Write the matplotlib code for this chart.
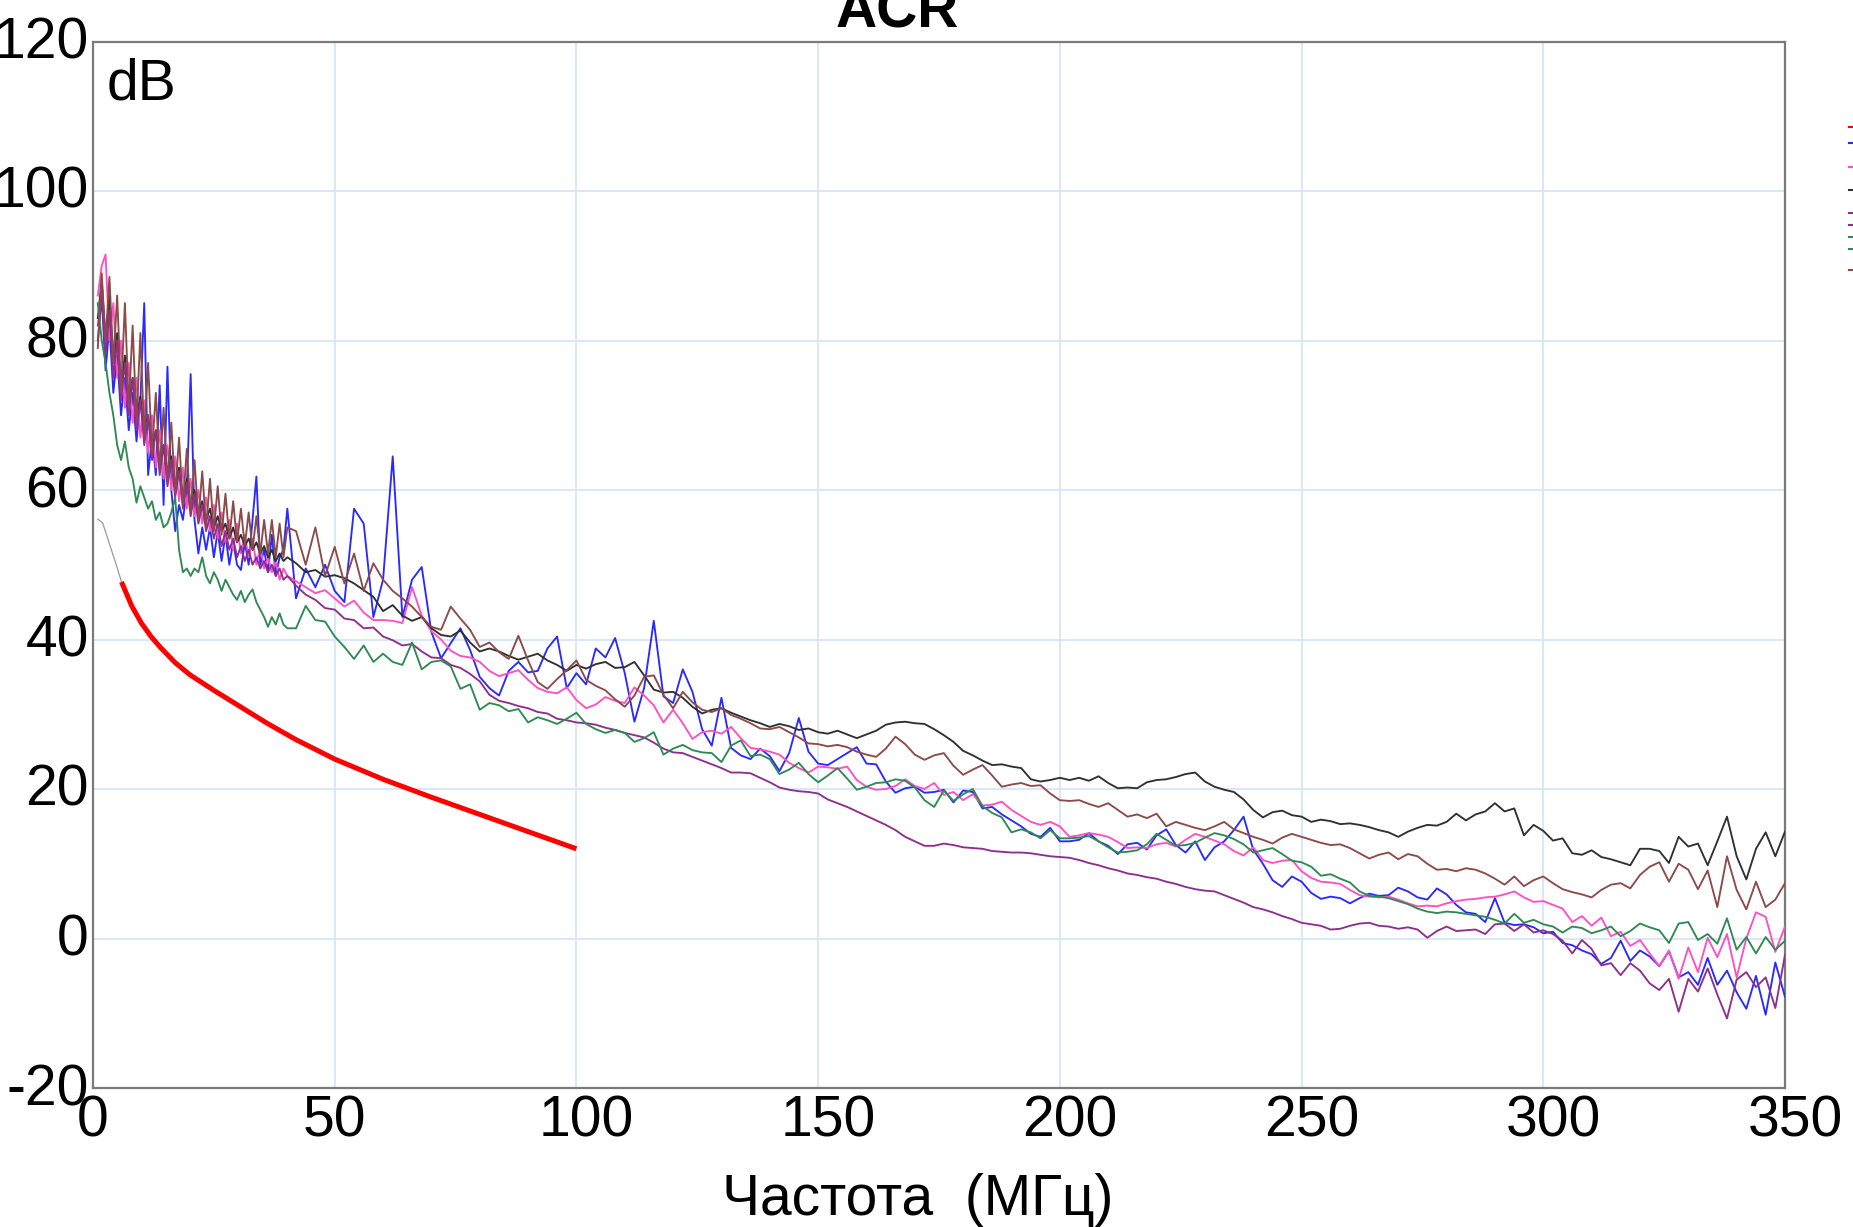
import numpy as np
import matplotlib
matplotlib.use("Agg")
import matplotlib.pyplot as plt
from matplotlib.lines import Line2D
from matplotlib.transforms import ScaledTranslation

plt.rcParams['font.family'] = ['Liberation Sans', 'DejaVu Sans']
plt.rcParams['axes.unicode_minus'] = False

# ---------------- data ----------------
F_LOW = np.round(np.arange(1.0, 40.3, 0.8), 1)      # 1.0 .. 40.2 MHz
F_HIGH = np.arange(42, 351, 2)                         # 42 .. 350 MHz

BLACK_LOW = [83, 88, 80, 86, 77, 81, 74, 78, 71.5, 75,
             69.5, 72.5, 67.5, 70, 65.5, 68, 63.5, 66, 62, 64.5,
             60.5, 63, 59, 61.5, 58, 60, 57, 58.5, 56, 57.5,
             55, 56.5, 54.5, 55.5, 53.5, 55, 53, 54, 52.5, 53.5,
             52, 53, 51.5, 52.5, 51, 52, 50.5, 51.5, 50.5, 51]
BLACK_HIGH = [50.2, 49, 49.3, 48.4, 48.6, 48.2, 47.5, 46.6, 45.7, 43.8,
              44.6, 43.2, 42.5, 43, 41.5, 40.6, 40.4, 41.2, 39.6, 38.4,
              38.8, 38.4, 37.8, 37.3, 37.7, 38.1, 37.2, 36.6, 35.8, 36.6,
              36.1, 36.7, 37, 36.2, 36.3, 37, 35.2, 33.3, 32.9, 33,
              32.2, 31, 30.1, 30.6, 30.8, 30.2, 29.7, 29.2, 28.8, 28.3,
              28.7, 28.4, 27.9, 28.1, 27.6, 27.4, 27.8, 27.3, 26.8, 27.3,
              27.8, 28.6, 28.9, 29, 28.8, 28.7, 28, 27.2, 26.3, 25.1,
              24.5, 23.8, 23.2, 23.3, 23, 22.8, 21.3, 21, 21.2, 21.5,
              21.2, 21.5, 21.1, 21.7, 20.8, 20.1, 20.2, 20.1, 20.9, 21.2,
              21.3, 21.6, 22, 22.2, 21, 20.3, 19.9, 19.6, 18.6, 17.2,
              16.2, 16.9, 17.1, 16.5, 16.3, 15.6, 15.9, 15.7, 15.3, 15.4,
              15.2, 14.9, 14.5, 14.2, 13.6, 14.3, 14.8, 15.2, 15.1, 15.6,
              16.7, 15.8, 16.6, 17, 18.1, 17, 17.4, 13.8, 15.2, 14.4,
              13.1, 13.4, 11.4, 11.2, 11.8, 10.9, 10.6, 10.2, 9.8, 12,
              12, 11.7, 10.1, 13.6, 12.3, 12.7, 9.8, 13, 16.3, 11,
              7.9, 12, 14.2, 11, 14.3]

BROWN_LOW = [79, 89, 80, 88.5, 77, 86, 73, 85, 71, 82,
             69, 81, 67, 77, 65, 73, 62.5, 71, 61, 69,
             59.5, 67, 58, 65.5, 57, 64, 56, 62.5, 55, 61.5,
             54.5, 60.5, 54, 59.5, 53.5, 58.5, 53, 57.5, 52.5, 57,
             52, 56.5, 51.5, 56, 51.5, 56, 51, 55.5, 51, 55]
BROWN_HIGH = [54.5, 50, 55, 48.5, 52.4, 47.5, 51.5, 46.5, 50.2, 48,
              46.5, 45.5, 44.4, 43, 41.7, 41.3, 44.4, 42.8, 41.3, 39,
              39.6, 38.3, 37.4, 40.5, 37.2, 34.3, 33.4, 34.7, 35.9, 37.2,
              34.6, 33.8, 33.2, 32, 31, 32.5, 35, 35.2, 32.6, 30.8,
              33, 31.6, 30.6, 30.3, 30.8, 29.9, 29.4, 28.8, 28.1, 28,
              28.3, 27.6, 26.9, 26.1, 26, 25.7, 25.9, 25.6, 25, 24.6,
              24.3, 25.4, 27, 26, 24.6, 23.9, 24.5, 24.8, 23.1, 21.9,
              22.6, 23.2, 21.8, 20.3, 20.6, 20.8, 20.4, 20.5, 19.4, 18.5,
              18.4, 18.5, 18, 17.6, 18.1, 17.2, 16.3, 16.6, 16.1, 16.7,
              15, 15.6, 15.2, 14.8, 14.5, 15, 15.6, 14.6, 14.1, 13.6,
              13.2, 12.7, 13.5, 14, 13.6, 13.2, 12.8, 12.5, 12.6, 12.1,
              11.4, 10.7, 11.2, 11.5, 10.6, 11.3, 11, 10, 9.2, 9.3,
              9, 9.4, 9.2, 8.7, 8, 7.2, 8.3, 7, 7.8, 8.3,
              7.4, 6.6, 6.2, 5.9, 5.5, 6.5, 7.2, 7.4, 6.7, 8.5,
              9.6, 10.2, 7.6, 10, 9.2, 6.6, 9.1, 4.2, 11, 6.5,
              3.9, 7.6, 4.2, 5.2, 7.4]

PINK_LOW = [86, 90, 91.5, 80, 85, 75, 80, 71, 77, 69,
            75, 67, 72, 65, 70, 63, 68, 61.5, 66, 60,
            64.5, 58.5, 63, 57.5, 61.5, 56.5, 60, 55.5, 59, 54.5,
            58, 53.5, 57, 53, 56, 52, 55.5, 51.5, 54, 51,
            53.5, 50, 52.5, 49.5, 51, 49, 50.5, 48, 49.5, 48.5]
PINK_HIGH = [47.8, 47, 46.2, 46.6, 45.5, 44.4, 45.2, 43.6, 42.6, 42.6,
             42.5, 42.2, 47, 43.2, 41.1, 40, 38.5, 37.8, 37.6, 37,
             35.8, 35.1, 35.5, 35.9, 34.6, 33.5, 33, 32.8, 33.6, 31.9,
             30.8, 31.3, 32.3, 31.8, 31.5, 33.6, 32.5, 31.2, 28.9, 30.6,
             28.8, 26.7, 27.6, 27.8, 27.4, 28.3, 26.8, 25.5, 25.3, 25,
             24.6, 23.5, 22.8, 22.2, 23, 22.9, 22.7, 23, 21.2, 20.3,
             19.9, 20, 20.4, 21.3, 20.4, 20, 20.8, 19.2, 19.6, 18.5,
             19.3, 17.8, 17.9, 18.3, 17.2, 16.4, 15.6, 15.2, 15.6, 15,
             13.6, 13.8, 14.1, 13.9, 13.6, 12.9, 12.1, 12.2, 12.1, 12.6,
             12.8, 12.3, 13.2, 14, 13.6, 13.1, 12.6, 11.7, 11.1, 12.2,
             10.5, 10.1, 10.4, 10.5, 9, 8.1, 7.6, 7.5, 7.3, 6.5,
             5.8, 5.6, 5.5, 5.6, 5.2, 4.7, 4.3, 4.4, 4.3, 4.7,
             5, 5.2, 5.3, 5.5, 5.6, 5.9, 6.3, 5.5, 4.9, 5,
             4.5, 4, 2.2, 3, 1.7, 2.8, 0.3, 0.9, -1, -0.2,
             -2, -3.7, -1.6, -5.4, -1.2, -4.5, 0.1, -2.5, 0.6, -5.2,
             0, 3.5, 2.9, -1.8, 1.6]

BLUE_LOW = [80, 86, 76, 82, 73, 78, 70, 75, 68, 73,
            66.5, 72, 85, 62, 67, 62, 74, 58, 76.5, 60,
            54.5, 58, 56, 60, 75.5, 56, 51.5, 55, 52, 55,
            51, 54.5, 50.5, 54, 50, 53, 50, 49.3, 53, 50,
            56, 61.8, 50, 52, 49, 54, 48.5, 51, 52, 57.5]
BLUE_HIGH = [45.5, 49.5, 47, 50, 46.5, 45, 57.5, 55.5, 43, 48,
             64.5, 43, 48, 49.7, 41, 37.5, 39.5, 41.5, 38.6, 35,
             33.5, 32.5, 35.8, 37, 35.6, 35.8, 38.8, 40.4, 33.5, 35.5,
             34, 38.8, 37.6, 40.2, 35.5, 29, 33.5, 42.5, 32.4, 31.5,
             36, 33, 28, 25.8, 32.2, 25.5, 24.5, 24, 25.4, 24.4,
             22.4, 24.8, 29.5, 25, 23.4, 23.2, 24, 24.8, 25.6, 23.4,
             23.3, 21, 19.5, 20.1, 20.3, 19.5, 19.6, 19.9, 18.2, 19.8,
             19.6, 17.4, 17.6, 16.6, 15.8, 15, 14, 13.6, 14.8, 13,
             13, 13.2, 14.1, 13, 12.4, 11.3, 12.6, 12.8, 11.9, 13.8,
             14.6, 12.5, 11.5, 13, 10.5, 12.2, 13, 14.5, 16.3, 11.9,
             10, 7.8, 6.9, 8.3, 7.6, 6.1, 5.3, 5.6, 5.4, 4.7,
             5.4, 6, 5.7, 5.8, 6.8, 6.3, 5.5, 5.2, 6.7, 5.9,
             4.5, 3.5, 3.3, 2.2, 5.4, 2.1, 1.8, 1.9, 1.5, 0.7,
             0.9, -0.6, -0.9, -1.6, -2.1, -3.4, -2.6, -0.3, -3, -1.6,
             -2.4, -3.7, -1.7, -5.2, -4.5, -6.2, -2.6, -6.2, -4.3, -7.2,
             -9.4, -5, -10.2, -3.2, -7.8]

PURPLE_LOW = [82, 86, 78, 84, 75, 80, 72, 77, 70, 75,
              68, 72, 66, 70, 64, 68, 62, 66, 60.5, 64,
              59, 62.5, 57.5, 61, 56.5, 59.5, 55.5, 58, 54.5, 56.5,
              53.5, 55.5, 52.5, 54.5, 52, 53.5, 51, 52.5, 50.5, 52,
              50, 51, 49.5, 50.5, 49, 50, 48.5, 49.5, 48, 48.5]
PURPLE_HIGH = [47.2, 46, 45.3, 44.2, 44, 42.8, 42.6, 41.5, 41.6, 40.4,
               39.9, 39.2, 39.4, 38.4, 37.6, 37.5, 36.6, 36.2, 35.4, 34.4,
               32.6, 31.8, 31.5, 31.1, 30.8, 30.3, 30.1, 29.4, 29.2, 28.9,
               28.8, 28.6, 28.2, 27.9, 27.5, 27.2, 26.9, 26.2, 25.4, 24.9,
               24.8, 24.3, 23.8, 23.3, 22.8, 22.2, 22.2, 22.1, 21.5, 20.9,
               20.2, 19.9, 19.7, 19.6, 19.4, 18.6, 18.1, 17.6, 17, 16.4,
               15.8, 15.2, 14.5, 13.6, 13, 12.4, 12.4, 12.7, 12.5, 12.2,
               12.1, 12, 11.7, 11.6, 11.5, 11.5, 11.4, 11.2, 11, 10.9,
               10.8, 10.5, 10.1, 9.8, 9.4, 9.1, 8.7, 8.5, 8.2, 8,
               7.6, 7.3, 6.9, 6.6, 6.4, 6.3, 5.8, 5.3, 4.8, 4.2,
               3.9, 3.5, 3, 2.6, 2.1, 1.9, 1.7, 1.2, 1.3, 1.7,
               2, 2.1, 1.7, 1.6, 1.3, 1.5, 1.2, 0.1, 1, 1.6,
               1, 1.1, 1.2, 0.6, 1.9, 2, 1, 1.9, 0.8, 1.1,
               0.6, -0.3, -2, -0.2, -1.4, -3.6, -3.3, -4.9, -3.3, -4.3,
               -6, -6.9, -5.4, -9.8, -5.4, -7.1, -4, -7.5, -10.7, -5.5,
               -4.5, -6.5, -5.2, -9.3, -2.2]

GREEN_LOW = [85, 80, 77, 73, 70, 66, 64, 66.5, 63, 61.5,
             58.3, 60.5, 59, 57.5, 58.5, 56, 57, 55, 55.5, 57,
             59, 52, 49, 49.5, 48.5, 49.5, 49, 51, 48.5, 47.5,
             49, 48, 46.5, 48, 47, 46, 45.3, 46.5, 45, 46,
             46.7, 45, 44, 43, 41.7, 43, 42, 43.5, 42, 41.5]
GREEN_HIGH = [41.5, 44.5, 42.6, 42.4, 40.4, 39, 37.4, 39.2, 37, 38.1,
              37, 36.6, 39.6, 36, 37, 37.2, 36.4, 33.4, 34, 30.6,
              31.5, 31.2, 30.4, 30.7, 28.9, 29.6, 29.2, 28.7, 29.4, 30.2,
              28.7, 28, 27.5, 27.9, 27.5, 26.3, 26.8, 27.6, 24.6, 25.4,
              25.9, 25.2, 24.9, 24.8, 23.6, 25.8, 26.5, 24.4, 24.6, 24,
              22, 22.6, 23.5, 22, 20.9, 21.8, 22.8, 21.4, 19.9, 20.3,
              20.8, 20.9, 21.3, 21.1, 20.2, 18.5, 17.6, 19.8, 18.4, 19.3,
              20, 17.7, 16.8, 16.2, 14.2, 14.6, 14.2, 13.4, 14.5, 13.4,
              13.4, 13.5, 13.7, 13, 12.2, 11.5, 11.6, 11.8, 12.6, 14,
              13.2, 12.4, 12.5, 12.8, 13.5, 14.1, 13.8, 13.3, 12.6, 11.5,
              11.8, 12.1, 11.3, 10.4, 10.2, 9.6, 8.4, 8.6, 8, 7.5,
              6.3, 5.7, 5.6, 5.4, 5, 4.6, 4, 3.6, 3.4, 3.6,
              3.5, 3.3, 3.1, 2.9, 2.5, 2, 3.3, 2.1, 2.5, 1.9,
              1.6, 0.8, 1.6, 1.4, 0.7, 1.1, 1.6, 0.3, 1, 2,
              1.5, 1.1, -0.6, 2, 2.2, -0.2, 0.6, -0.7, 2.7, -1.5,
              0.2, -2, 0.2, -1.5, -0.3]

GRAY_F = [1, 2, 3, 4, 5, 5.9]
GRAY_V = [56.1, 55.6, 53.6, 51.6, 49.6, 47.7]
RED_F = [5.9, 8, 10, 12, 14, 17, 20, 25, 30, 36, 42, 50, 60, 70, 80, 90, 100]
RED_V = [47.7, 44.5, 42.2, 40.4, 38.9, 36.9, 35.3, 33.2, 31.2, 28.8, 26.6,
         24, 21.3, 18.9, 16.6, 14.3, 12]

X_TICKS = [0, 50, 100, 150, 200, 250, 300, 350]
Y_TICKS = [-20, 0, 20, 40, 60, 80, 100, 120]

COLORS = {
    'red': '#ff0000', 'gray': '#9a9a9a', 'blue': '#2a2aff', 'pink': '#ff4fc4',
    'black': '#303030', 'purple': '#8e2f8e', 'green': '#2e8a52', 'brown': '#8c4a48',
}

# ---------------- figure ----------------
W, H = 1853, 1227
fig = plt.figure(figsize=(W / 100, H / 100), dpi=100)
ax = fig.add_axes([93 / W, 1 - 1088 / H, (1785 - 93) / W, (1088 - 41.5) / H])

F = np.concatenate([F_LOW, F_HIGH])
series = [
    ('blue', BLUE_LOW + BLUE_HIGH),
    ('pink', PINK_LOW + PINK_HIGH),
    ('black', BLACK_LOW + BLACK_HIGH),
    ('purple', PURPLE_LOW + PURPLE_HIGH),
    ('green', GREEN_LOW + GREEN_HIGH),
    ('brown', BROWN_LOW + BROWN_HIGH),
]

ax.plot(GRAY_F, GRAY_V, color=COLORS['gray'], lw=0.9, zorder=3)
ax.plot(RED_F, RED_V, color=COLORS['red'], lw=3.6, zorder=3, solid_capstyle='butt')
for i, (c, v) in enumerate(series):
    ax.plot(F, v, color=COLORS[c], lw=1.35, zorder=4 + i)

ax.set_xlim(0, 350)
ax.set_ylim(-20, 120)
ax.set_xticks(X_TICKS, labels=[str(t) for t in X_TICKS])
ax.set_yticks(Y_TICKS, labels=[str(t) for t in Y_TICKS])
ax.grid(True, color='#d4e6f8', lw=1.3)
ax.set_axisbelow(True)
ax.tick_params(axis='both', length=0, labelsize=41, colors='black')
ax.tick_params(axis='x', pad=5)
ax.tick_params(axis='y', pad=3)
for s in ax.spines.values():
    s.set_color('#7a7a7a')
    s.set_linewidth(1.6)

# the source renders three-digit x labels slightly right of their grid line,
# and y labels a few pixels high
for t, tick in zip(X_TICKS, ax.xaxis.get_major_ticks()):
    if t >= 100:
        tick.label1.set_transform(tick.label1.get_transform() +
                                  ScaledTranslation(10 / 100, 0, fig.dpi_scale_trans))
for tick in ax.yaxis.get_major_ticks():
    tick.label1.set_transform(tick.label1.get_transform() +
                              ScaledTranslation(0, 4 / 100, fig.dpi_scale_trans))

fig.text(897.5 / W, 1 - 28 / H, 'ACR', ha='center', va='baseline',
         fontsize=41, fontweight='bold')
fig.text(107 / W, 1 - 100 / H, 'dB', ha='left', va='baseline', fontsize=41)
fig.text(918 / W, 1 - 1215 / H, 'Частота  (МГц)', ha='center', va='baseline',
         fontsize=41)

# clipped legend fragments at the right edge
legend_marks = [(127, 'red'), (143, 'blue'), (167, 'pink'), (190, 'black'),
                (213, 'purple'), (225, 'purple'), (237, 'green'), (249, 'green'),
                (270, 'brown')]
for yp, c in legend_marks:
    fig.add_artist(Line2D([1849 / W, 1853 / W], [1 - yp / H, 1 - yp / H],
                          color=COLORS[c], lw=1.5, transform=fig.transFigure))

fig.savefig('out.png', dpi=100)
